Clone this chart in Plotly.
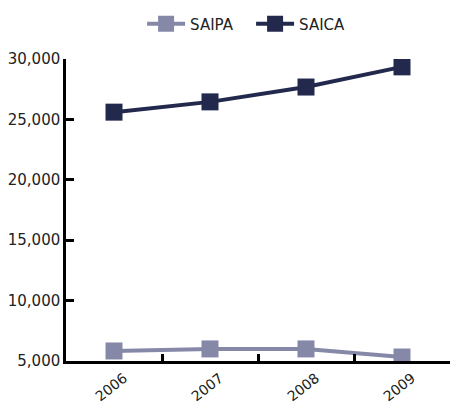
import plotly.graph_objects as go

years = ["2006", "2007", "2008", "2009"]
saipa = [5830, 6000, 6000, 5330]
saica = [25600, 26450, 27680, 29350]
y_ticks = [5000, 10000, 15000, 20000, 25000, 30000]

fig = go.Figure()
fig.add_trace(go.Scatter(x=years, y=saipa, name="SAIPA", mode="lines+markers",
                         line=dict(color="#8688a8", width=4),
                         marker=dict(symbol="square", size=17, color="#8688a8")))
fig.add_trace(go.Scatter(x=years, y=saica, name="SAICA", mode="lines+markers",
                         line=dict(color="#22294d", width=4),
                         marker=dict(symbol="square", size=17, color="#22294d")))

fig.update_layout(
    width=450, height=407,
    margin=dict(l=66, r=0, t=59, b=46),
    paper_bgcolor="white", plot_bgcolor="white",
    font=dict(family="DejaVu Sans", size=15, color="#222222"),
    showlegend=True,
    legend=dict(orientation="h", x=0.482, xanchor="center", y=1.116, yanchor="middle",
                font=dict(size=15), itemwidth=38, entrywidth=56, entrywidthmode="pixels"),
)
fig.update_xaxes(type="category", showline=True, linecolor="black", linewidth=2.5,
                 ticks="inside", tickson="boundaries", ticklen=7, tickwidth=2.5,
                 tickcolor="black", tickangle=-38, ticklabelstandoff=1,
                 ticklabelshift=10, automargin=False,
                 showgrid=False, zeroline=False,
                 range=[-0.5, 3.5], tickfont=dict(size=14))
fig.update_yaxes(range=[5000, 30000], tickvals=y_ticks, tickformat=",",
                 showline=True, linecolor="black", linewidth=2.5,
                 ticks="inside", ticklen=8, tickwidth=2.5, tickcolor="black",
                 showgrid=False, zeroline=False, automargin=False)

fig.write_html("out.html")
